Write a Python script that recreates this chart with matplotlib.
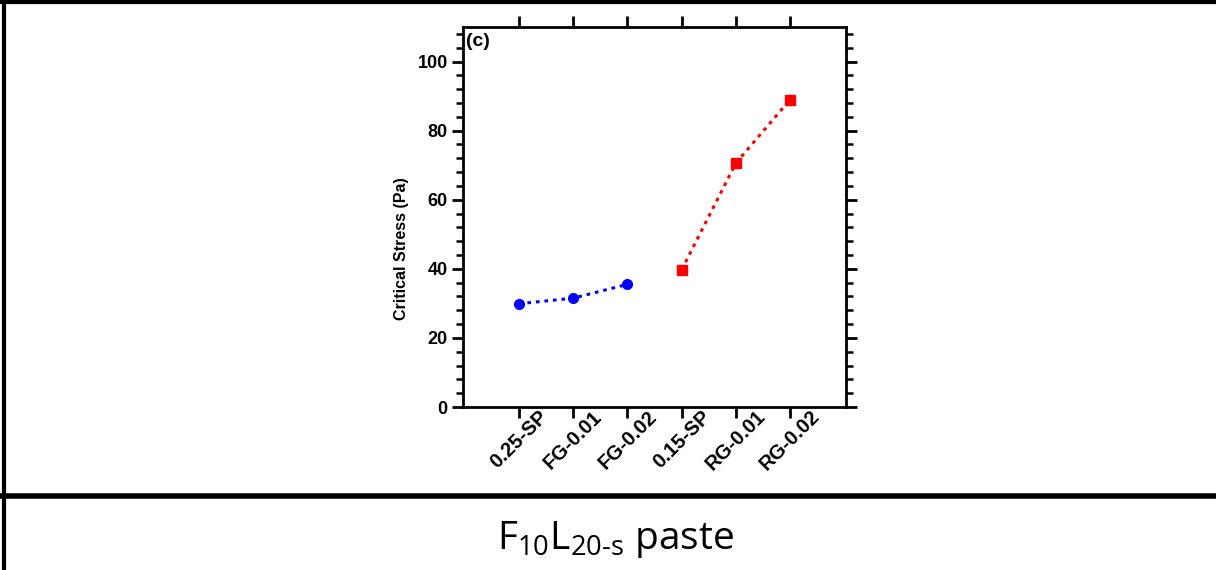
import matplotlib
matplotlib.use("Agg")
import matplotlib.pyplot as plt
from matplotlib.lines import Line2D
from matplotlib.ticker import MultipleLocator

categories = ["0.25-SP", "FG-0.01", "FG-0.02", "0.15-SP", "RG-0.01", "RG-0.02"]
fg_idx = [0, 1, 2]
fg_vals = [29.9, 31.5, 35.5]
rg_idx = [3, 4, 5]
rg_vals = [39.7, 70.6, 89.0]

plt.rcParams['font.family'] = ['Liberation Sans', 'DejaVu Sans']
plt.rcParams['mathtext.fontset'] = 'custom'
plt.rcParams['mathtext.rm'] = 'Open Sans'
plt.rcParams['mathtext.it'] = 'Open Sans'
plt.rcParams['mathtext.bf'] = 'Open Sans'

W, H = 1216, 570
fig = plt.figure(figsize=(W / 100, H / 100), dpi=100)

# axes box in pixels: left 463, right 846, top 27, bottom 407
ax = fig.add_axes([463 / W, 1 - 407 / H, (846 - 463) / W, (407 - 27) / H])

ax.plot(fg_idx, fg_vals, color='blue', ls=(0, (1.2, 1.6)), lw=2.2,
        marker='o', ms=7, zorder=3)
ax.plot(rg_idx, rg_vals, color='red', ls=(0, (1.2, 1.6)), lw=2.2,
        marker='s', ms=7, zorder=3)

ax.set_xlim(-1.03, 6.03)
ax.set_ylim(0, 110)
ax.set_xticks(range(len(categories)))
ax.set_xticklabels(categories, rotation=45, ha='center',
                   fontsize=14.5, fontweight='bold')
ax.yaxis.set_major_locator(MultipleLocator(20))
ax.yaxis.set_minor_locator(MultipleLocator(4))
for lab in ax.get_yticklabels():
    lab.set_fontweight('bold')
    lab.set_fontsize(13)

ax.tick_params(axis='x', which='major', direction='out', length=8, width=2,
               top=True, bottom=True, pad=-8)
ax.tick_params(axis='y', which='major', direction='out', length=8, width=2,
               left=True, right=True, pad=3)
ax.tick_params(axis='y', which='minor', direction='out', length=5, width=1.8,
               left=True, right=True)
ax.tick_params(axis='x', which='minor', bottom=False, top=False)

for s in ax.spines.values():
    s.set_linewidth(2)

ax.set_ylabel("Critical Stress (Pa)", fontsize=11.5, fontweight='bold')
ax.yaxis.set_label_coords(-0.141, 0.418)
ax.text(0.008, 0.985, "(c)", transform=ax.transAxes, ha='left', va='top',
        fontsize=14, fontweight='bold')

# table cell borders
def hline(y, x0=0, x1=W, lw=4):
    fig.add_artist(Line2D([x0 / W, x1 / W], [1 - y / H, 1 - y / H],
                          color='black', lw=lw, transform=fig.transFigure))

def vline(x, y0=0, y1=H, lw=3):
    fig.add_artist(Line2D([x / W, x / W], [1 - y0 / H, 1 - y1 / H],
                          color='black', lw=lw, transform=fig.transFigure))

hline(1.5, lw=3)
hline(495.5, lw=4)
vline(3.5, lw=3)

fig.text(615 / W, 1 - 540 / H,
         r"F$_{\mathrm{10}}$L$_{\mathrm{20\text{-}s}}$ paste",
         ha='center', va='center', fontsize=28,
         family=['Open Sans', 'DejaVu Sans'])

fig.savefig("out.png", dpi=100)
